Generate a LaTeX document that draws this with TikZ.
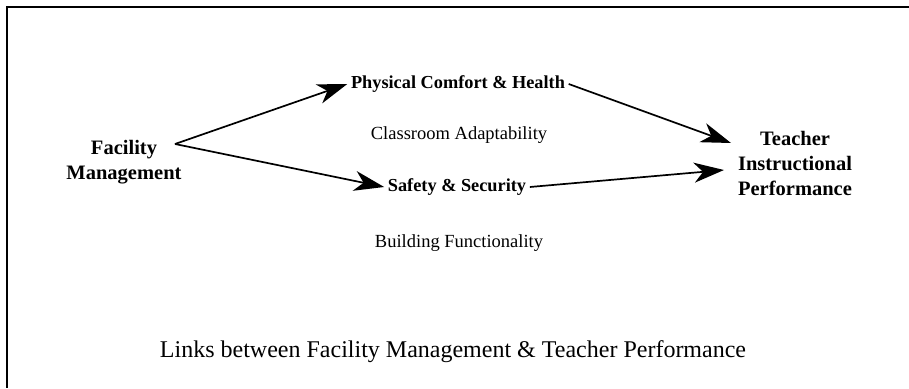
\documentclass[tikz,border=0pt]{standalone}
\usepackage{fontspec}
\setmainfont{Liberation Serif}
\usetikzlibrary{arrows.meta}
\begin{document}
\begin{tikzpicture}[x=1pt,y=-1pt,
  endbox/.style={font=\fontsize{20.5}{25}\selectfont\bfseries, align=center, inner sep=2pt},
  midbold/.style={font=\fontsize{18.3}{22}\selectfont\bfseries, inner sep=3.5pt},
  midplain/.style={font=\fontsize{18.5}{22}\selectfont, inner sep=2pt},
  capt/.style={font=\fontsize{24}{28}\selectfont, inner sep=2pt},
  link/.style={line width=1.7pt, -{Stealth[length=30pt, width=20pt, inset=9pt]}},
  frame/.style={line width=2pt}]
\useasboundingbox (0,0) rectangle (909,388);
% frame (top and left edges only)
\coordinate (fr1) at (909,7);
\coordinate (fr2) at (7,7);
\coordinate (fr3) at (7,388);
\draw[frame] (fr1) -- (fr2) -- (fr3);
% nodes
\node[endbox] (fm) at (124,162) {Facility\\Management};
\node[endbox] (tip) at (795,163) {Teacher\\Instructional\\Performance};
\node[midbold] (pch) at (458,84) {Physical Comfort \& Health};
\node[midbold] (ss) at (457,187) {Safety \& Security};
\node[midplain] (ca) at (459,135) {Classroom Adaptability};
\node[midplain] (bf) at (459,243) {Building Functionality};
\node[capt] (cap) at (453,352) {Links between Facility Management \& Teacher Performance};
% connector ends
\coordinate (fmo) at (175,144);
\coordinate (t1) at (731,143);
\coordinate (t2) at (724,170);
% connectors
\draw[link] (fmo) -- (pch.west);
\draw[link] (fmo) -- (ss.west);
\draw[link] (pch.east) -- (t1);
\draw[link] (ss.east) -- (t2);
\end{tikzpicture}
\end{document}
